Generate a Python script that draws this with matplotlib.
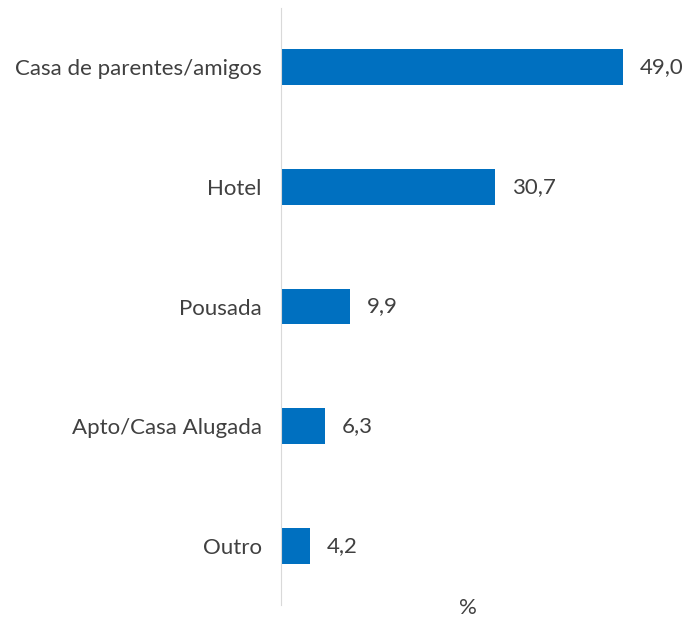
import matplotlib.pyplot as plt

categories = ["Casa de parentes/amigos", "Hotel", "Pousada", "Apto/Casa Alugada", "Outro"]
values = [49.0, 30.7, 9.9, 6.3, 4.2]
labels = ["49,0", "30,7", "9,9", "6,3", "4,2"]

plt.rcParams["font.family"] = ["Lato", "DejaVu Sans"]
text_color = "#404040"

fig = plt.figure(figsize=(6.86, 6.17), dpi=100)
ax = fig.add_axes([281 / 686, 12 / 617, (655 - 281) / 686, (609 - 12) / 617])

pos = list(range(len(categories)))
ax.barh(pos, values, height=0.3, color="#0070C0")
for p, v, lab in zip(pos, values, labels):
    ax.text(v + 2.4, p, lab, va="center", ha="left", fontsize=16, color=text_color)

ax.set_ylim(len(categories) - 0.51, -0.49)
ax.set_xlim(0, 53.6)
ax.set_yticks(pos)
ax.set_yticklabels(categories, fontsize=16, color=text_color)
ax.tick_params(axis="y", length=0, pad=14)
ax.set_xticks([])
ax.set_xlabel("%", fontsize=16, color=text_color, labelpad=-5)

for s in ["top", "right", "bottom"]:
    ax.spines[s].set_visible(False)
ax.spines["left"].set_color("#D9D9D9")

fig.savefig("out.png", dpi=100)
